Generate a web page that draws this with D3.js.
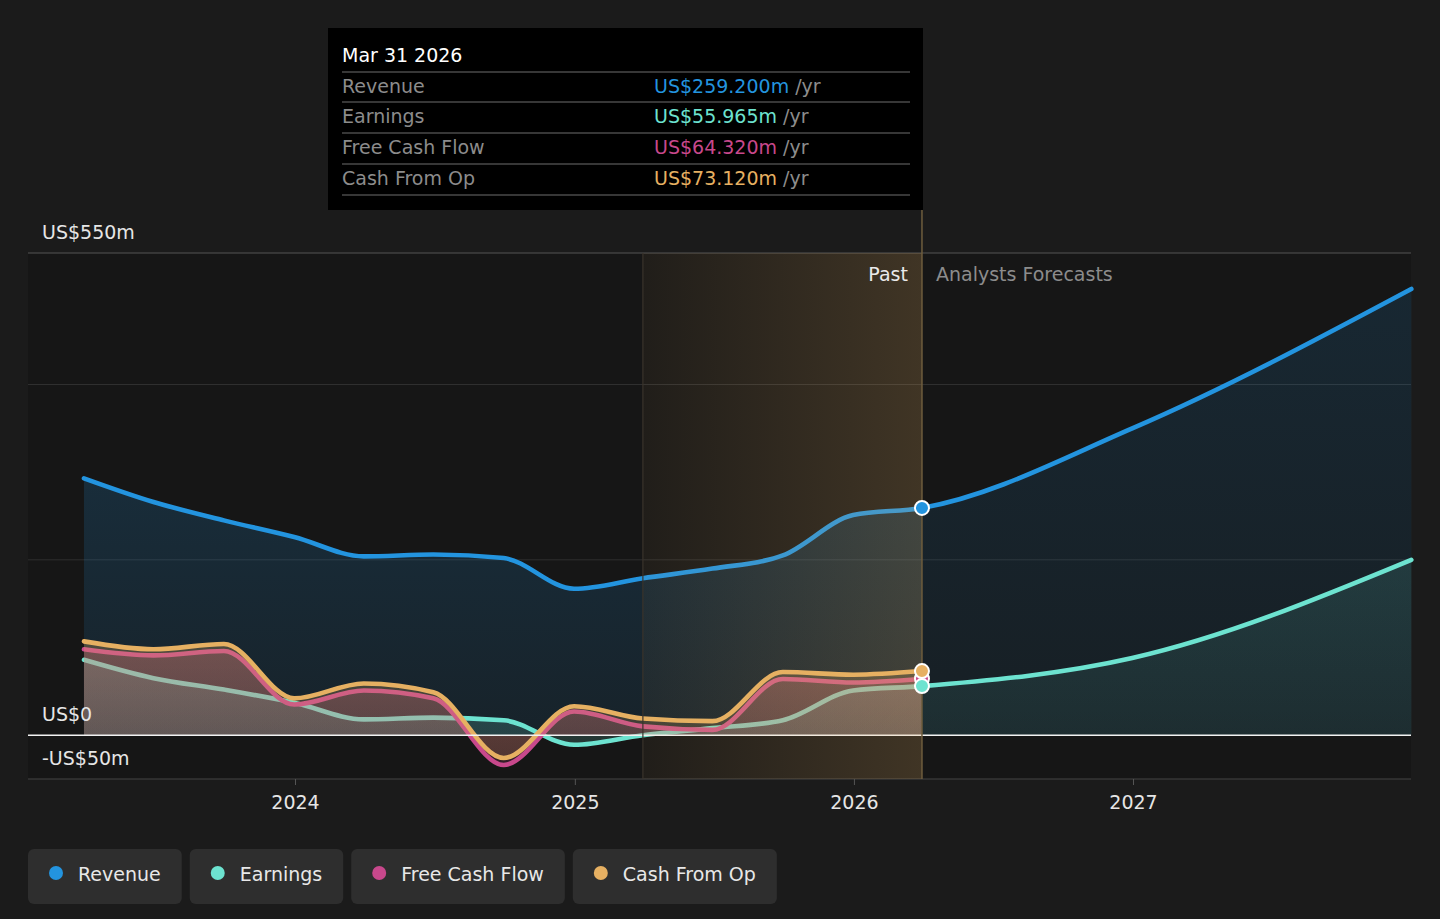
<!DOCTYPE html>
<html>
<head>
<meta charset="utf-8">
<script src="https://cdn.jsdelivr.net/npm/d3@7"></script>
<style>
  html, body { margin: 0; background: #1b1b1b; }
  svg { display: block; font-family: "DejaVu Sans", sans-serif; }
</style>
</head>
<body>
<svg id="chart" width="1440" height="919"></svg>
<script>
// ---- data (US$ m, trailing year) ----
const pastDates = ["2023-03-31", "2023-06-30", "2023-09-30", "2023-12-31", "2024-03-31", "2024-06-30",
  "2024-09-30", "2024-12-31", "2025-03-31", "2025-06-30", "2025-09-30", "2025-12-31", "2026-03-31"];
const revenuePast = [293, 266, 245, 226, 204, 206, 202, 167, 179, 190, 205, 251, 259.2];
const earningsPast = [86, 65, 52, 37, 18, 20, 17, -11, 0, 8, 17, 51, 55.965];
const fcfPast = [98, 91, 96, 35, 51, 42, -34, 27, 10, 6, 64, 60, 64.32];
const cfoPast = [107, 98, 104, 42, 59, 49, -26, 33, 19, 16, 72, 69, 73.12];

const forecastDates = ["2026-03-31", "2026-12-31", "2027-12-31"];
const revenueForecast = [259.2, 350, 509];
const earningsForecast = [55.965, 88, 200];

const yLabelValues = [550, 0, -50];
const yLabelTexts = ["US$550m", "US$0", "-US$50m"];
const gridValues = [200, 400];
const xTickYears = ["2024-01-01", "2025-01-01", "2026-01-01", "2027-01-01"];

const seriesNames = ["Revenue", "Earnings", "Free Cash Flow", "Cash From Op"];
const seriesColors = ["#2394df", "#6de3d0", "#c8488c", "#e6b062"];
const tooltipDate = "Mar 31 2026";
const tooltipValues = ["US$259.200m", "US$55.965m", "US$64.320m", "US$73.120m"];
const highlightStart = "2025-03-31";
const pastEnd = "2026-03-31";

// ---- setup ----
const parse = d3.utcParse("%Y-%m-%d");
const svg = d3.select("#chart");
const W = 1440;
const left = 28, right = 1411;

const x = d3.scaleUtc()
  .domain([parse("2024-01-01"), parse("2027-01-01")])
  .range([295, 1133]);
const y = d3.scaleLinear().domain([-50, 550]).range([779, 253]);

const xSplit = x(parse(pastEnd));
const xHi = x(parse(highlightStart));

const toPts = (dates, vals) => dates.map((d, i) => ({ date: parse(d), v: vals[i] }));
const revenueAll = toPts(pastDates, revenuePast).concat(toPts(forecastDates.slice(1), revenueForecast.slice(1)));
const earningsAll = toPts(pastDates, earningsPast).concat(toPts(forecastDates.slice(1), earningsForecast.slice(1)));
const fcfAll = toPts(pastDates, fcfPast);
const cfoAll = toPts(pastDates, cfoPast);

const line = d3.line().x(d => x(d.date)).y(d => y(d.v)).curve(d3.curveMonotoneX);
const area = d3.area().x(d => x(d.date)).y0(y(0)).y1(d => y(d.v)).curve(d3.curveMonotoneX);

const defs = svg.append("defs");

// clip paths for past / forecast halves
defs.append("clipPath").attr("id", "clipPast")
  .append("rect").attr("x", 0).attr("y", 0).attr("width", xSplit).attr("height", 919);
defs.append("clipPath").attr("id", "clipFore")
  .append("rect").attr("x", xSplit).attr("y", 0).attr("width", W - xSplit).attr("height", 919);

function vGrad(id, color, top, bottom) {
  const g = defs.append("linearGradient").attr("id", id)
    .attr("x1", 0).attr("y1", 0).attr("x2", 0).attr("y2", 1);
  g.append("stop").attr("offset", "0%").attr("stop-color", color).attr("stop-opacity", top);
  g.append("stop").attr("offset", "100%").attr("stop-color", color).attr("stop-opacity", bottom);
}
vGrad("gRevPast", seriesColors[0], 0.24, 0.1);
vGrad("gRevFore", seriesColors[0], 0.14, 0.07);
vGrad("gEarnPast", seriesColors[1], 0.28, 0.16);
vGrad("gEarnFore", seriesColors[1], 0.13, 0.07);
vGrad("gFcf", seriesColors[2], 0.27, 0.16);
vGrad("gCfo", seriesColors[3], 0.27, 0.16);

const hg = defs.append("linearGradient").attr("id", "gHi")
  .attr("x1", 0).attr("y1", 0).attr("x2", 1).attr("y2", 0);
hg.append("stop").attr("offset", "0%").attr("stop-color", "#e8b060").attr("stop-opacity", 0.05);
hg.append("stop").attr("offset", "100%").attr("stop-color", "#e8b060").attr("stop-opacity", 0.2);

// plot background
svg.append("rect").attr("x", left).attr("y", y(550)).attr("width", right - left)
  .attr("height", y(-50) - y(550)).attr("fill", "#161616");

// gridlines
svg.append("g").selectAll("line").data(gridValues).join("line")
  .attr("x1", left).attr("x2", right).attr("y1", d => y(d)).attr("y2", d => y(d))
  .attr("stroke", "#2f2f2f").attr("stroke-width", 1);
svg.append("line").attr("x1", left).attr("x2", right).attr("y1", y(550)).attr("y2", y(550))
  .attr("stroke", "#555").attr("stroke-width", 1.2);
svg.append("line").attr("x1", left).attr("x2", right).attr("y1", y(-50)).attr("y2", y(-50))
  .attr("stroke", "#444").attr("stroke-width", 1.2);

// series: area (past / forecast) + line
function drawSeries(data, color, pastGrad, foreGrad) {
  const g = svg.append("g");
  g.append("path").datum(data).attr("d", area).attr("fill", `url(#${pastGrad})`).attr("clip-path", "url(#clipPast)");
  if (foreGrad) {
    g.append("path").datum(data).attr("d", area).attr("fill", `url(#${foreGrad})`).attr("clip-path", "url(#clipFore)");
  }
  g.append("path").datum(data).attr("d", line).attr("fill", "none")
    .attr("stroke", color).attr("stroke-width", 4.6).attr("stroke-linejoin", "round").attr("stroke-linecap", "round");
}
drawSeries(revenueAll, seriesColors[0], "gRevPast", "gRevFore");
drawSeries(earningsAll, seriesColors[1], "gEarnPast", "gEarnFore");
drawSeries(fcfAll, seriesColors[2], "gFcf", null);
drawSeries(cfoAll, seriesColors[3], "gCfo", null);

// zero line
svg.append("line").attr("x1", left).attr("x2", right).attr("y1", y(0)).attr("y2", y(0))
  .attr("stroke", "#f2f2f2").attr("stroke-width", 1.5);

// highlighted band (last 12 months)
svg.append("rect").attr("x", xHi).attr("y", y(550)).attr("width", xSplit - xHi)
  .attr("height", y(-50) - y(550)).attr("fill", "url(#gHi)");
svg.append("line").attr("x1", xHi).attr("x2", xHi).attr("y1", y(550)).attr("y2", y(-50))
  .attr("stroke", "#3a342b").attr("stroke-width", 1.2);
svg.append("line").attr("x1", xSplit).attr("x2", xSplit).attr("y1", 210).attr("y2", y(-50))
  .attr("stroke", "#6e5d3d").attr("stroke-width", 1.5);

// end-of-past markers
const markerOrder = [2, 3, 1, 0];
const lastVals = [revenuePast, earningsPast, fcfPast, cfoPast].map(a => a[a.length - 1]);
svg.append("g").selectAll("circle").data(markerOrder).join("circle")
  .attr("cx", xSplit).attr("cy", i => y(lastVals[i])).attr("r", 7)
  .attr("fill", i => seriesColors[i]).attr("stroke", "#fff").attr("stroke-width", 2);

// y labels (sit just above their value line)
svg.append("g").selectAll("text").data(yLabelValues).join("text")
  .attr("x", 42).attr("y", d => y(d) - 14)
  .attr("fill", "#e6e6e6").attr("font-size", 19)
  .text((d, i) => yLabelTexts[i]);

// x axis
const xAxis = svg.append("g").attr("transform", `translate(0,${y(-50)})`)
  .call(d3.axisBottom(x).tickValues(xTickYears.map(parse)).tickFormat(d3.utcFormat("%Y")).tickSize(6));
xAxis.select(".domain").remove();
xAxis.selectAll(".tick line").attr("stroke", "#555");
xAxis.selectAll(".tick text").attr("y", 30).attr("dy", null)
  .attr("fill", "#e6e6e6").attr("font-size", 19).attr("font-family", "DejaVu Sans, sans-serif");

// past / forecast labels
svg.append("text").attr("x", xSplit - 14).attr("y", 281).attr("text-anchor", "end")
  .attr("fill", "#eaeaea").attr("font-size", 19).text("Past");
svg.append("text").attr("x", xSplit + 14).attr("y", 281)
  .attr("fill", "#8c8c8c").attr("font-size", 19).text("Analysts Forecasts");

// tooltip box
const tip = svg.append("g");
tip.append("rect").attr("x", 328).attr("y", 28).attr("width", xSplit + 1 - 328).attr("height", 182).attr("fill", "#000");
tip.append("text").attr("x", 342).attr("y", 62).attr("fill", "#fff").attr("font-size", 19).text(tooltipDate);
const sepY = [72, 102, 133, 164, 195];
tip.selectAll("line").data(sepY).join("line")
  .attr("x1", 342).attr("x2", 910).attr("y1", d => d).attr("y2", d => d)
  .attr("stroke", "#4a4a4a").attr("stroke-width", 1.5);
const rows = tip.selectAll("g.row").data(seriesNames).join("g").attr("class", "row");
rows.append("text").attr("x", 342).attr("y", (d, i) => sepY[i] + 21)
  .attr("fill", "#8c8c8c").attr("font-size", 19).text(d => d);
const vt = rows.append("text").attr("x", 654).attr("y", (d, i) => sepY[i] + 21).attr("font-size", 19);
vt.append("tspan").attr("fill", (d, i) => seriesColors[i]).text((d, i) => tooltipValues[i]);
vt.append("tspan").attr("fill", "#8c8c8c").text(" /yr");

// legend
const legend = svg.append("g");
let lx = 28;
seriesNames.forEach((name, i) => {
  const g = legend.append("g");
  const bg = g.append("rect").attr("x", lx).attr("y", 849).attr("height", 55).attr("rx", 6).attr("fill", "#2e2e2e");
  g.append("circle").attr("cx", lx + 28).attr("cy", 873).attr("r", 7).attr("fill", seriesColors[i]);
  const t = g.append("text").attr("x", lx + 50).attr("y", 881).attr("fill", "#e8e8e8").attr("font-size", 19).text(name);
  const w = 50 + t.node().getComputedTextLength() + 21;
  bg.attr("width", w);
  lx += w + 8;
});
</script>
</body>
</html>
